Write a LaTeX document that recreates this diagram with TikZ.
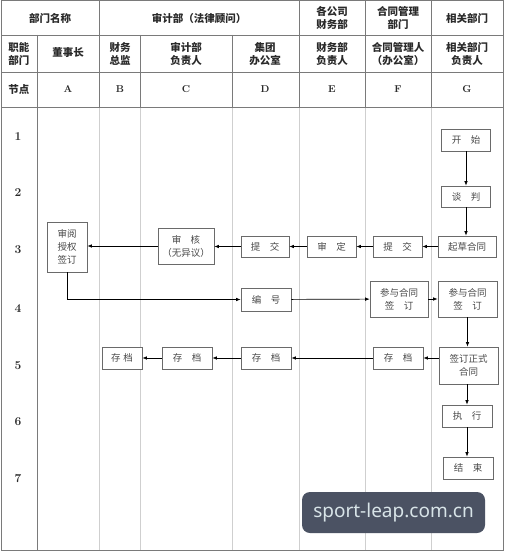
\documentclass[tikz,border=0pt]{standalone}
\usepackage{fontspec}
\newfontfamily\cjk{Noto Sans CJK SC}
\newfontfamily\wmfont{Noto Sans}
\usetikzlibrary{arrows.meta}
\definecolor{hline}{HTML}{7A7A7A}
\definecolor{bline}{HTML}{CFCFCF}
\definecolor{boxline}{HTML}{6A6A6A}
\definecolor{txt}{HTML}{2A2A2A}
\definecolor{boxtxt}{HTML}{4A4A4A}
\definecolor{wmbg}{HTML}{4B5263}
\definecolor{wmtxt}{HTML}{D8E4E8}
\tikzset{
  hdr/.style={font=\cjk\bfseries\fontsize{10.5}{12.5}\selectfont, text=txt, align=center, inner sep=0pt},
  rownum/.style={font=\bfseries\fontsize{12}{14}\selectfont, text=txt, inner sep=0pt},
  lett/.style={font=\bfseries\fontsize{10}{12}\selectfont, text=txt, inner sep=0pt},
  fbox/.style={draw=boxline, line width=0.6pt, fill=white, font=\cjk\fontsize{9.5}{13}\selectfont, text=boxtxt, align=center, inner sep=0pt},
  flow/.style={line width=0.7pt, draw=black, -{Latex[length=4.5pt,width=3.5pt]}},
  grid/.style={draw=hline, line width=0.7pt},
  lane/.style={draw=bline, line width=0.8pt}
}
\begin{document}
\begin{tikzpicture}[x=1pt,y=-1pt]
\useasboundingbox (0,0) rectangle (505,553);
\fill[white] (0,0) rectangle (505,553);
% body lane lines
\foreach \xx in {99,140,232,299,365,431} \draw[lane] (\xx,107) -- (\xx,550);
\draw[grid] (37,107) -- (37,550);
% header grid
\draw[grid] (1,35) -- (503,35);
\draw[grid] (1,72) -- (503,72);
\draw[grid] (1,107) -- (503,107);
\draw[grid] (37,35) -- (37,107);
\draw[grid] (99,1) -- (99,107);
\draw[grid] (140,35) -- (140,107);
\draw[grid] (232,35) -- (232,107);
\foreach \xx in {299,365,431} \draw[grid] (\xx,1) -- (\xx,107);
\draw[draw=hline, line width=1pt] (1,1) rectangle (503,550);
% header texts
\node[hdr] (h11) at (50,18) {部门名称};
\node[hdr] (h12) at (199,18) {审计部（法律顾问）};
\node[hdr] (h13) at (332,18) {各公司\\财务部};
\node[hdr] (h14) at (398,18) {合同管理\\部门};
\node[hdr] (h15) at (467,18) {相关部门};
\node[hdr] (h21) at (19,54) {职能\\部门};
\node[hdr] (h22) at (68,53) {董事长};
\node[hdr] (h23) at (120,54) {财务\\总监};
\node[hdr] (h24) at (186,54) {审计部\\负责人};
\node[hdr] (h25) at (265,54) {集团\\办公室};
\node[hdr] (h26) at (332,54) {财务部\\负责人};
\node[hdr] (h27) at (398,54) {合同管理人\\（办公室）};
\node[hdr] (h28) at (467,54) {相关部门\\负责人};
\node[hdr] (h31) at (19,89.5) {节点};
\node[lett] (lA) at (68,89.5) {A};
\node[lett] (lB) at (120,89.5) {B};
\node[lett] (lC) at (186,89.5) {C};
\node[lett] (lD) at (265,89.5) {D};
\node[lett] (lE) at (332,89.5) {E};
\node[lett] (lF) at (398,89.5) {F};
\node[lett] (lG) at (467,89.5) {G};
% row numbers
\node[rownum] (r1) at (18,137) {1};
\node[rownum] (r2) at (18,193) {2};
\node[rownum] (r3) at (18,250) {3};
\node[rownum] (r4) at (18,309) {4};
\node[rownum] (r5) at (18,366) {5};
\node[rownum] (r6) at (18,422) {6};
\node[rownum] (r7) at (18,479) {7};
% flow boxes
\node[fbox, minimum width=49pt, minimum height=22pt] (kaishi) at (466,140) {开\hspace{1em}始};
\node[fbox, minimum width=49pt, minimum height=21pt] (tanpan) at (466,196.5) {谈\hspace{1em}判};
\node[fbox, minimum width=58pt, minimum height=21pt] (qicao) at (467,246.5) {起草合同};
\node[fbox, minimum width=49pt, minimum height=21pt] (tijiaoF) at (397.5,246.5) {提\hspace{1em}交};
\node[fbox, minimum width=49pt, minimum height=21pt] (shending) at (331.5,246.5) {审\hspace{1em}定};
\node[fbox, minimum width=48pt, minimum height=21pt] (tijiaoD) at (265,246.5) {提\hspace{1em}交};
\node[fbox, minimum width=56pt, minimum height=36pt] (shenhe) at (186,246) {审\hspace{1em}核\\（无异议）};
\node[fbox, minimum width=40pt, minimum height=50pt] (shenyue) at (67,247) {审阅\\授权\\签订};
\node[fbox, minimum width=50pt, minimum height=23pt] (bianhao) at (266,299.5) {编\hspace{1em}号};
\node[fbox, minimum width=58pt, minimum height=36pt] (canyuF) at (399,299) {参与合同\\签\hspace{1em}订};
\node[fbox, minimum width=59pt, minimum height=36pt] (canyuG) at (467.5,299) {参与合同\\签\hspace{1em}订};
\node[fbox, minimum width=59pt, minimum height=37pt] (qianding) at (468.5,365.5) {签订正式\\合同};
\node[fbox, minimum width=50pt, minimum height=22pt] (cdF) at (398,358) {存\hspace{1em}档};
\node[fbox, minimum width=50pt, minimum height=22pt] (cdD) at (266,358) {存\hspace{1em}档};
\node[fbox, minimum width=50pt, minimum height=22pt] (cdC) at (187,358) {存\hspace{1em}档};
\node[fbox, minimum width=40pt, minimum height=22pt] (cdB) at (122,358) {存\hspace{0.3em}档};
\node[fbox, minimum width=50pt, minimum height=22pt] (zhixing) at (467,416) {执\hspace{1em}行};
\node[fbox, minimum width=50pt, minimum height=22pt] (jieshu) at (468,468) {结\hspace{1em}束};
% connectors
\draw[flow] (kaishi) -- (tanpan);
\draw[flow] (tanpan) -- (tanpan |- qicao.north);
\draw[flow] (qicao) -- (tijiaoF);
\draw[flow] (tijiaoF) -- (shending);
\draw[flow] (shending) -- (tijiaoD);
\draw[flow] (tijiaoD) -- (tijiaoD -| shenhe.east);
\draw[flow] (shenhe) -- (shenhe -| shenyue.east);
\draw[flow] (shenyue.south) |- (bianhao.west);
\draw[flow] (bianhao) -- (canyuF);
\draw[flow] (canyuF) -- (canyuG);
\draw[flow] (canyuG) -- (canyuG |- qianding.north);
\draw[flow] (qianding.west |- cdF) -- (cdF);
\draw[flow] (cdF) -- (cdD);
\draw[flow] (cdD) -- (cdC);
\draw[flow] (cdC) -- (cdB);
\draw[flow] (qianding.south -| zhixing) -- (zhixing);
\draw[flow] (zhixing) -- (zhixing |- jieshu.north);
% watermark
\node[fill=wmbg, rounded corners=8pt, minimum width=183pt, minimum height=41pt, inner sep=0pt, text=wmtxt, font=\wmfont\fontsize{19}{22}\selectfont] (wm) at (393.5,512.5) {sport-leap.com.cn};
\end{tikzpicture}
\end{document}
